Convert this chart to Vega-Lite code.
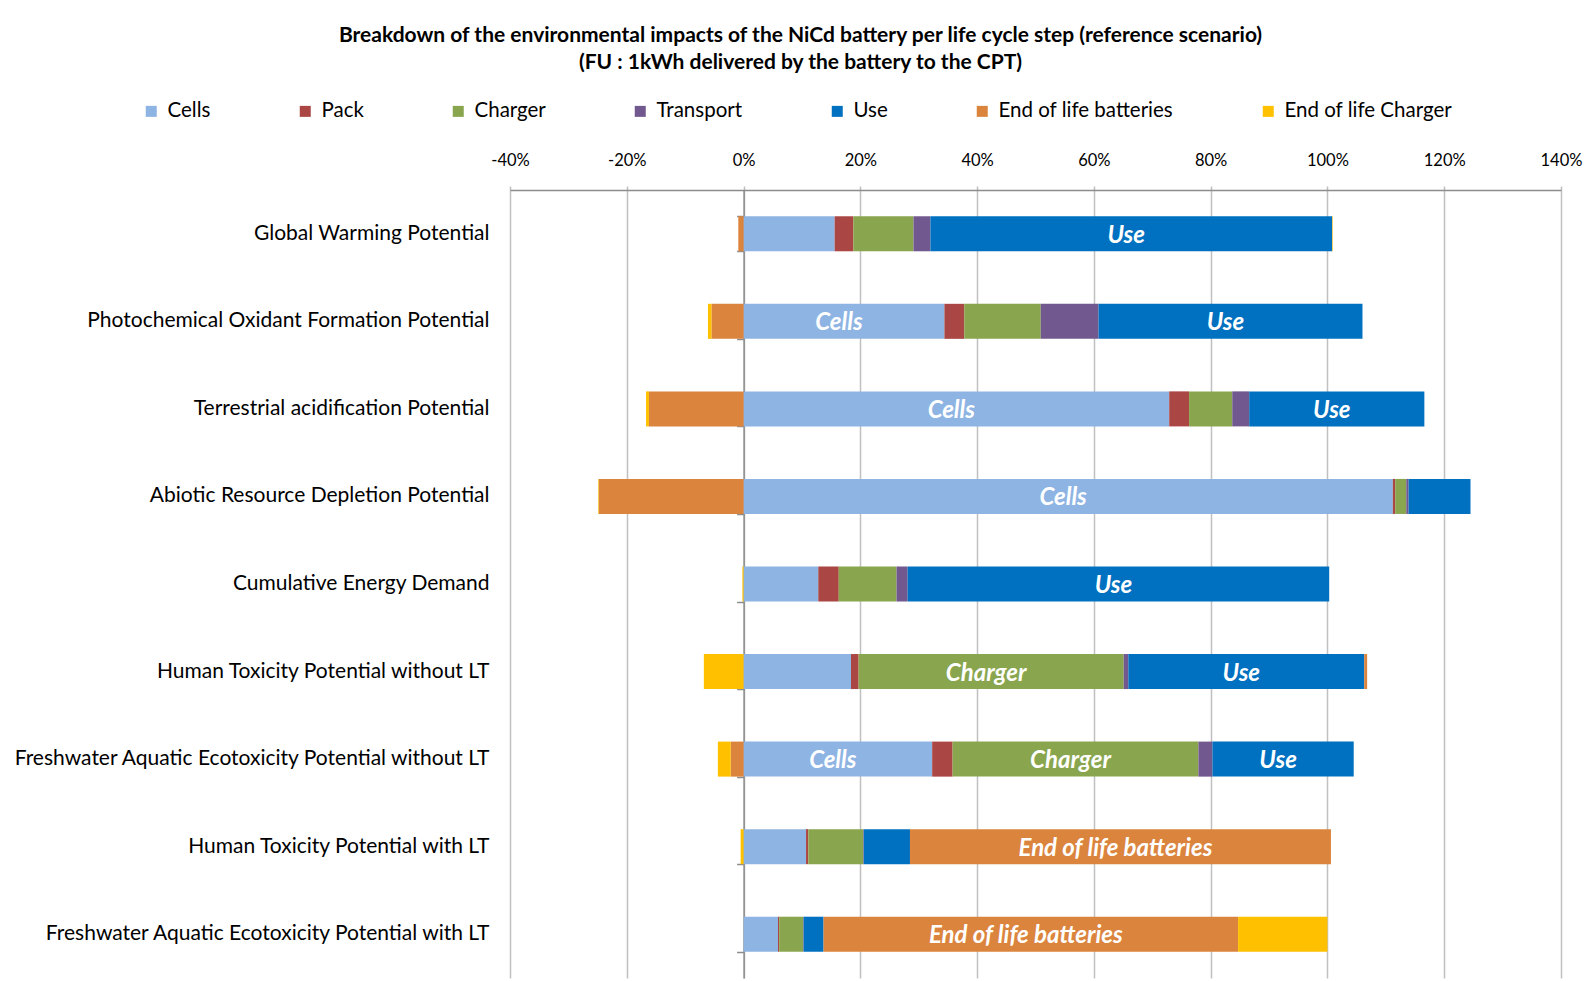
{
  "$schema": "https://vega.github.io/schema/vega-lite/v6.json",
  "width": 1051,
  "height": 788,
  "autosize": {"type": "none"},
  "padding": {"left": 510, "top": 190, "right": 29, "bottom": 3},
  "background": "white",
  "config": {"view": {"stroke": null}, "font": "Lato"},
  "title": {
    "text": ["Breakdown of the environmental impacts of the NiCd battery per life cycle step (reference scenario)", "(FU : 1kWh delivered by the battery to the CPT)"],
    "anchor": "middle",
    "frame": "group",
    "dx": -235,
    "fontSize": 21,
    "fontWeight": "bold",
    "font": "Lato",
    "lineHeight": 27,
    "offset": 28,
    "color": "black"
  },
  "data": {
    "values": [
      {"impact": "Global Warming Potential", "stage": "Cells", "k": 1, "value": 15.6},
      {"impact": "Global Warming Potential", "stage": "Pack", "k": 2, "value": 3.2},
      {"impact": "Global Warming Potential", "stage": "Charger", "k": 3, "value": 10.3},
      {"impact": "Global Warming Potential", "stage": "Transport", "k": 4, "value": 2.9},
      {"impact": "Global Warming Potential", "stage": "Use", "k": 5, "value": 68.8},
      {"impact": "Global Warming Potential", "stage": "End of life batteries", "k": 6, "value": -0.9},
      {"impact": "Global Warming Potential", "stage": "End of life Charger", "k": 7, "value": 0.1},

      {"impact": "Photochemical Oxidant Formation Potential", "stage": "Cells", "k": 1, "value": 34.4},
      {"impact": "Photochemical Oxidant Formation Potential", "stage": "Pack", "k": 2, "value": 3.4},
      {"impact": "Photochemical Oxidant Formation Potential", "stage": "Charger", "k": 3, "value": 13.1},
      {"impact": "Photochemical Oxidant Formation Potential", "stage": "Transport", "k": 4, "value": 9.9},
      {"impact": "Photochemical Oxidant Formation Potential", "stage": "Use", "k": 5, "value": 45.2},
      {"impact": "Photochemical Oxidant Formation Potential", "stage": "End of life batteries", "k": 6, "value": -5.5},
      {"impact": "Photochemical Oxidant Formation Potential", "stage": "End of life Charger", "k": 7, "value": -0.6},

      {"impact": "Terrestrial acidification Potential", "stage": "Cells", "k": 1, "value": 72.9},
      {"impact": "Terrestrial acidification Potential", "stage": "Pack", "k": 2, "value": 3.4},
      {"impact": "Terrestrial acidification Potential", "stage": "Charger", "k": 3, "value": 7.4},
      {"impact": "Terrestrial acidification Potential", "stage": "Transport", "k": 4, "value": 2.9},
      {"impact": "Terrestrial acidification Potential", "stage": "Use", "k": 5, "value": 30.0},
      {"impact": "Terrestrial acidification Potential", "stage": "End of life batteries", "k": 6, "value": -16.2},
      {"impact": "Terrestrial acidification Potential", "stage": "End of life Charger", "k": 7, "value": -0.5},

      {"impact": "Abiotic Resource Depletion Potential", "stage": "Cells", "k": 1, "value": 111.2},
      {"impact": "Abiotic Resource Depletion Potential", "stage": "Pack", "k": 2, "value": 0.4},
      {"impact": "Abiotic Resource Depletion Potential", "stage": "Charger", "k": 3, "value": 1.9},
      {"impact": "Abiotic Resource Depletion Potential", "stage": "Transport", "k": 4, "value": 0.4},
      {"impact": "Abiotic Resource Depletion Potential", "stage": "Use", "k": 5, "value": 10.6},
      {"impact": "Abiotic Resource Depletion Potential", "stage": "End of life batteries", "k": 6, "value": -24.8},
      {"impact": "Abiotic Resource Depletion Potential", "stage": "End of life Charger", "k": 7, "value": -0.1},

      {"impact": "Cumulative Energy Demand", "stage": "Cells", "k": 1, "value": 12.8},
      {"impact": "Cumulative Energy Demand", "stage": "Pack", "k": 2, "value": 3.5},
      {"impact": "Cumulative Energy Demand", "stage": "Charger", "k": 3, "value": 9.9},
      {"impact": "Cumulative Energy Demand", "stage": "Transport", "k": 4, "value": 1.9},
      {"impact": "Cumulative Energy Demand", "stage": "Use", "k": 5, "value": 72.2},
      {"impact": "Cumulative Energy Demand", "stage": "End of life batteries", "k": 6, "value": 0.0},
      {"impact": "Cumulative Energy Demand", "stage": "End of life Charger", "k": 7, "value": -0.2},

      {"impact": "Human Toxicity Potential without LT", "stage": "Cells", "k": 1, "value": 18.4},
      {"impact": "Human Toxicity Potential without LT", "stage": "Pack", "k": 2, "value": 1.3},
      {"impact": "Human Toxicity Potential without LT", "stage": "Charger", "k": 3, "value": 45.4},
      {"impact": "Human Toxicity Potential without LT", "stage": "Transport", "k": 4, "value": 0.8},
      {"impact": "Human Toxicity Potential without LT", "stage": "Use", "k": 5, "value": 40.4},
      {"impact": "Human Toxicity Potential without LT", "stage": "End of life batteries", "k": 6, "value": 0.5},
      {"impact": "Human Toxicity Potential without LT", "stage": "End of life Charger", "k": 7, "value": -6.8},

      {"impact": "Freshwater Aquatic Ecotoxicity Potential without LT", "stage": "Cells", "k": 1, "value": 32.3},
      {"impact": "Freshwater Aquatic Ecotoxicity Potential without LT", "stage": "Pack", "k": 2, "value": 3.5},
      {"impact": "Freshwater Aquatic Ecotoxicity Potential without LT", "stage": "Charger", "k": 3, "value": 42.1},
      {"impact": "Freshwater Aquatic Ecotoxicity Potential without LT", "stage": "Transport", "k": 4, "value": 2.4},
      {"impact": "Freshwater Aquatic Ecotoxicity Potential without LT", "stage": "Use", "k": 5, "value": 24.2},
      {"impact": "Freshwater Aquatic Ecotoxicity Potential without LT", "stage": "End of life batteries", "k": 6, "value": -2.2},
      {"impact": "Freshwater Aquatic Ecotoxicity Potential without LT", "stage": "End of life Charger", "k": 7, "value": -2.2},

      {"impact": "Human Toxicity Potential with LT", "stage": "Cells", "k": 1, "value": 10.7},
      {"impact": "Human Toxicity Potential with LT", "stage": "Pack", "k": 2, "value": 0.4},
      {"impact": "Human Toxicity Potential with LT", "stage": "Charger", "k": 3, "value": 9.4},
      {"impact": "Human Toxicity Potential with LT", "stage": "Transport", "k": 4, "value": 0.1},
      {"impact": "Human Toxicity Potential with LT", "stage": "Use", "k": 5, "value": 7.9},
      {"impact": "Human Toxicity Potential with LT", "stage": "End of life batteries", "k": 6, "value": 72.1},
      {"impact": "Human Toxicity Potential with LT", "stage": "End of life Charger", "k": 7, "value": -0.5},

      {"impact": "Freshwater Aquatic Ecotoxicity Potential with LT", "stage": "Cells", "k": 1, "value": 5.9},
      {"impact": "Freshwater Aquatic Ecotoxicity Potential with LT", "stage": "Pack", "k": 2, "value": 0.2},
      {"impact": "Freshwater Aquatic Ecotoxicity Potential with LT", "stage": "Charger", "k": 3, "value": 4.1},
      {"impact": "Freshwater Aquatic Ecotoxicity Potential with LT", "stage": "Transport", "k": 4, "value": 0.1},
      {"impact": "Freshwater Aquatic Ecotoxicity Potential with LT", "stage": "Use", "k": 5, "value": 3.4},
      {"impact": "Freshwater Aquatic Ecotoxicity Potential with LT", "stage": "End of life batteries", "k": 6, "value": 71.0},
      {"impact": "Freshwater Aquatic Ecotoxicity Potential with LT", "stage": "End of life Charger", "k": 7, "value": 15.3}
    ]
  },
  "encoding": {
    "order": {"field": "k", "type": "quantitative"}
  },
  "layer": [
    {
      "mark": {"type": "bar"},
      "encoding": {
        "x": {
          "field": "value",
          "type": "quantitative",
          "stack": "zero",
          "scale": {"domain": [-40, 140], "nice": false, "zero": false},
          "axis": {
            "orient": "top",
            "title": null,
            "values": [-40, -20, 0, 20, 40, 60, 80, 100, 120, 140],
            "labelExpr": "datum.value + '%'",
            "labelFontSize": 16.5,
            "labelFont": "Lato",
            "labelColor": "black",
            "labelPadding": 18,
            "ticks": true,
            "tickSize": 4,
            "tickColor": "#bfbfbf",
            "tickWidth": 1.5,
            "domainColor": "#8c8c8c",
            "domainWidth": 1.5,
            "grid": true,
            "gridColor": "#c0c0c0",
            "gridWidth": 1.5,
            "labelFlush": false
          }
        },
        "y": {
          "field": "impact",
          "type": "nominal",
          "sort": [
            "Global Warming Potential",
            "Photochemical Oxidant Formation Potential",
            "Terrestrial acidification Potential",
            "Abiotic Resource Depletion Potential",
            "Cumulative Energy Demand",
            "Human Toxicity Potential without LT",
            "Freshwater Aquatic Ecotoxicity Potential without LT",
            "Human Toxicity Potential with LT",
            "Freshwater Aquatic Ecotoxicity Potential with LT"
          ],
          "scale": {"paddingInner": 0.6, "paddingOuter": 0.3},
          "axis": {
            "orient": "left",
            "title": null,
            "domain": false,
            "ticks": false,
            "labelFontSize": 21,
            "labelFont": "Lato",
            "labelColor": "black",
            "labelPadding": 21,
            "labelLimit": 700
          }
        },
        "color": {
          "field": "stage",
          "type": "nominal",
          "scale": {
            "domain": ["Cells", "Pack", "Charger", "Transport", "Use", "End of life batteries", "End of life Charger"],
            "range": ["#8EB4E3", "#AA4643", "#89A54E", "#71588F", "#0070C0", "#DB843D", "#FFC000"]
          },
          "legend": {
            "orient": "none",
            "legendX": -369,
            "legendY": -89,
            "direction": "horizontal",
            "columns": 7,
            "title": null,
            "symbolType": "square",
            "symbolSize": 121,
            "symbolStrokeWidth": 0,
            "symbolOpacity": 1,
            "labelFontSize": 20.5,
            "labelFont": "Lato",
            "labelColor": "black",
            "labelOffset": 6,
            "labelLimit": 400,
            "columnPadding": 84
          }
        }
      }
    },
    {
      "mark": {"type": "text", "color": "white", "fontWeight": "bold", "fontStyle": "italic", "fontSize": 24, "font": "Lato", "baseline": "middle", "dy": 2, "dx": -5},
      "encoding": {
        "x": {
          "field": "value",
          "type": "quantitative",
          "stack": "zero",
          "bandPosition": 0.5,
          "scale": {"domain": [-40, 140], "nice": false, "zero": false},
          "axis": {
            "orient": "top",
            "title": null,
            "values": [-40, -20, 0, 20, 40, 60, 80, 100, 120, 140],
            "labelExpr": "datum.value + '%'",
            "labelFontSize": 16.5,
            "labelFont": "Lato",
            "labelColor": "black",
            "labelPadding": 18,
            "ticks": true,
            "tickSize": 4,
            "tickColor": "#bfbfbf",
            "tickWidth": 1.5,
            "domainColor": "#8c8c8c",
            "domainWidth": 1.5,
            "grid": true,
            "gridColor": "#c0c0c0",
            "gridWidth": 1.5,
            "labelFlush": false
          }
        },
        "y": {
          "field": "impact",
          "type": "nominal",
          "sort": [
            "Global Warming Potential",
            "Photochemical Oxidant Formation Potential",
            "Terrestrial acidification Potential",
            "Abiotic Resource Depletion Potential",
            "Cumulative Energy Demand",
            "Human Toxicity Potential without LT",
            "Freshwater Aquatic Ecotoxicity Potential without LT",
            "Human Toxicity Potential with LT",
            "Freshwater Aquatic Ecotoxicity Potential with LT"
          ],
          "scale": {"paddingInner": 0.6, "paddingOuter": 0.3},
          "axis": {
            "orient": "left",
            "title": null,
            "labels": false,
            "domain": true,
            "domainColor": "#8c8c8c",
            "domainWidth": 1.5,
            "ticks": true,
            "tickBand": "extent",
            "tickSize": 7,
            "tickColor": "#8c8c8c",
            "tickWidth": 1.5,
            "offset": -233.6,
            "grid": false
          }
        },
        "text": {"condition": {"test": "datum.value >= 20", "field": "stage"}, "value": ""}
      }
    }
  ],
  "resolve": {"axis": {"y": "independent"}}
}
